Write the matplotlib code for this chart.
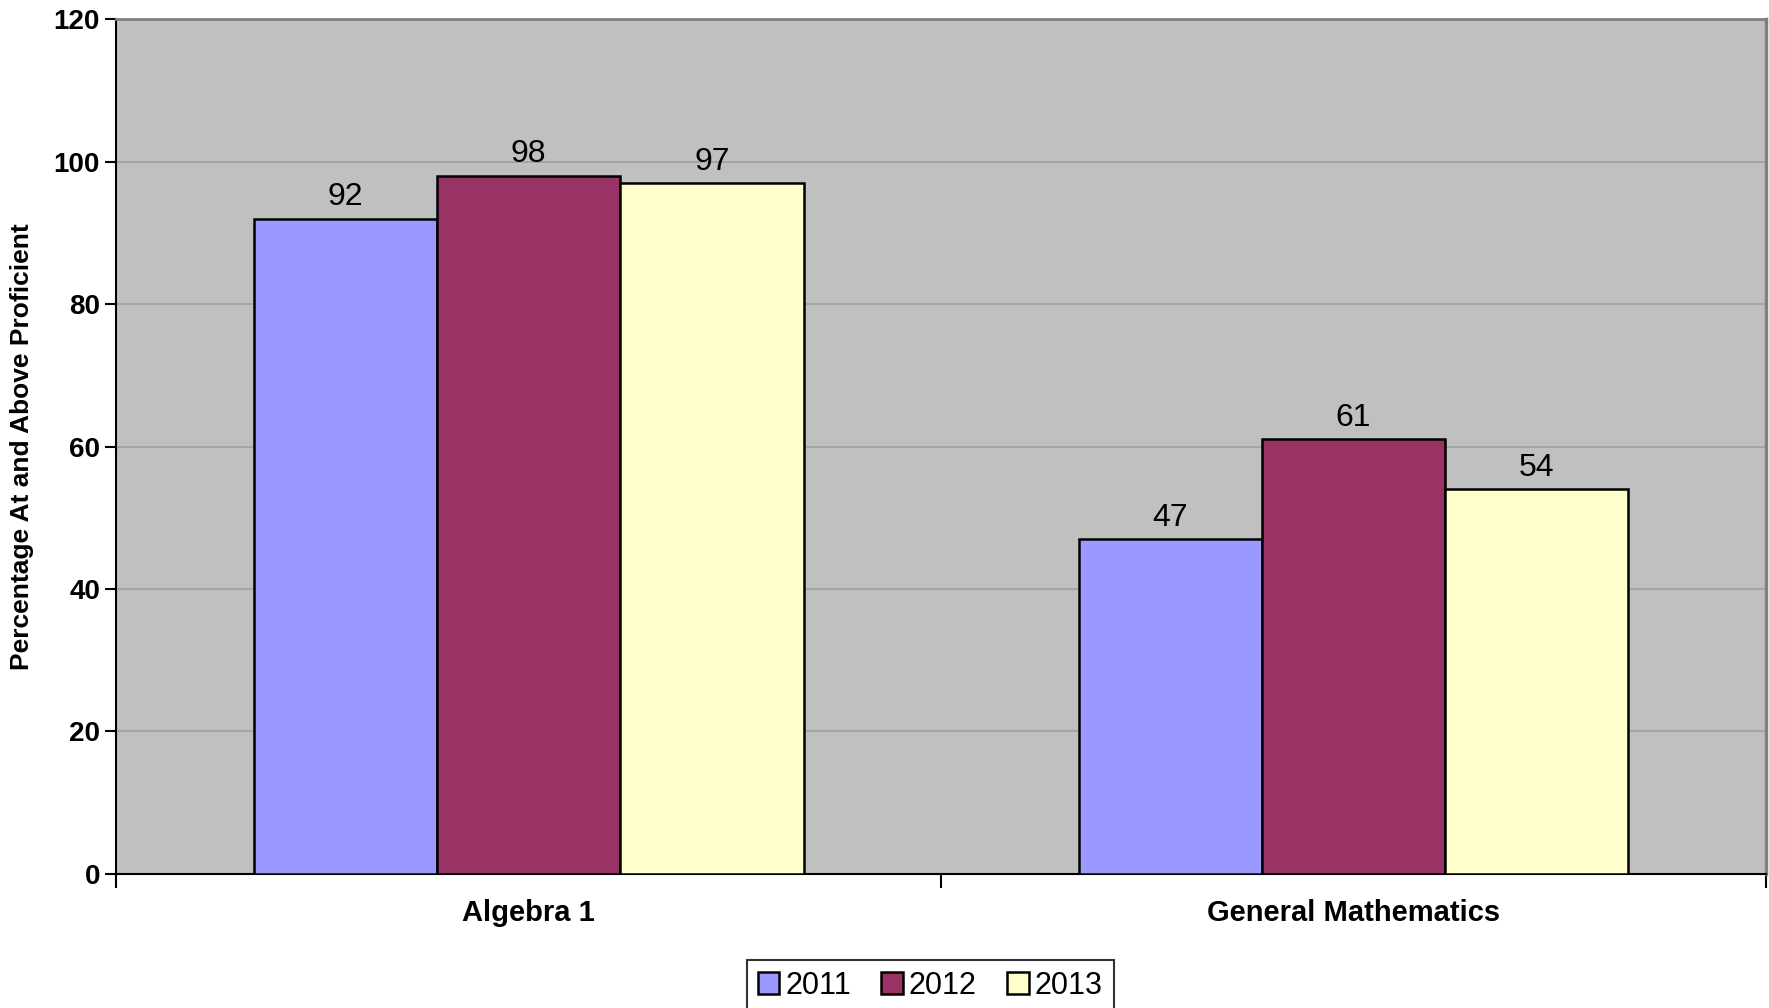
import matplotlib.pyplot as plt
import numpy as np

# data
categories = ['Algebra 1', 'General Mathematics']
years = ['2011', '2012', '2013']
vals_2011 = [92, 47]
vals_2012 = [98, 61]
vals_2013 = [97, 54]
colors = ['#9999FF', '#993366', '#FFFFCC']

plt.rcParams['font.family'] = ['Liberation Sans', 'DejaVu Sans']

fig = plt.figure(figsize=(17.69, 10.08), dpi=100)
ax = fig.add_axes([0.0656, 0.133, 0.9327, 0.848])
ax.set_facecolor('#C0C0C0')

x = np.arange(len(categories))
w = 1 / 4.5
series = [vals_2011, vals_2012, vals_2013]
for i, (vals, col, yr) in enumerate(zip(series, colors, years)):
    bars = ax.bar(x + (i - 1) * w, vals, w, color=col, edgecolor='black',
                  linewidth=1.8, label=yr, zorder=3)
    for b, v in zip(bars, vals):
        ax.text(b.get_x() + b.get_width() / 2, v + 0.9, str(v),
                ha='center', va='bottom', fontsize=23, zorder=4)

ax.set_xlim(-0.5, 1.5)
ax.set_ylim(0, 120)
ax.set_yticks(range(0, 121, 20))
ax.yaxis.grid(True, color='#A0A0A0', linewidth=1.2, zorder=0)
ax.tick_params(axis='y', labelsize=20, length=8, width=1.5, direction='out')
for lab in ax.get_yticklabels():
    lab.set_fontweight('bold')

ax.set_xticks([-0.5, 0.5, 1.5])
ax.set_xticklabels([])
ax.tick_params(axis='x', which='major', length=10, width=1.5, direction='out')
ax.set_xticks(x, minor=True)
ax.set_xticklabels(categories, minor=True, fontsize=21, fontweight='bold')
ax.tick_params(axis='x', which='minor', length=0, pad=18)

ax.set_ylabel('Percentage At and Above Proficient', fontsize=19,
              fontweight='bold', labelpad=14)

ax.spines['left'].set_color('black')
ax.spines['left'].set_linewidth(1.5)
ax.spines['bottom'].set_color('black')
ax.spines['bottom'].set_linewidth(1.5)
ax.spines['top'].set_color('#808080')
ax.spines['top'].set_linewidth(2)
ax.spines['right'].set_color('#808080')
ax.spines['right'].set_linewidth(2.5)

leg = ax.legend(loc='upper center', bbox_to_anchor=(0.4935, -0.083), ncol=3,
                fontsize=22, frameon=True, fancybox=False, handlelength=0.7,
                handleheight=0.7, handletextpad=0.2, columnspacing=1.0,
                borderpad=0.35)
leg.get_frame().set_edgecolor('black')
leg.get_frame().set_linewidth(1.5)

fig.savefig('out.png', dpi=100)
